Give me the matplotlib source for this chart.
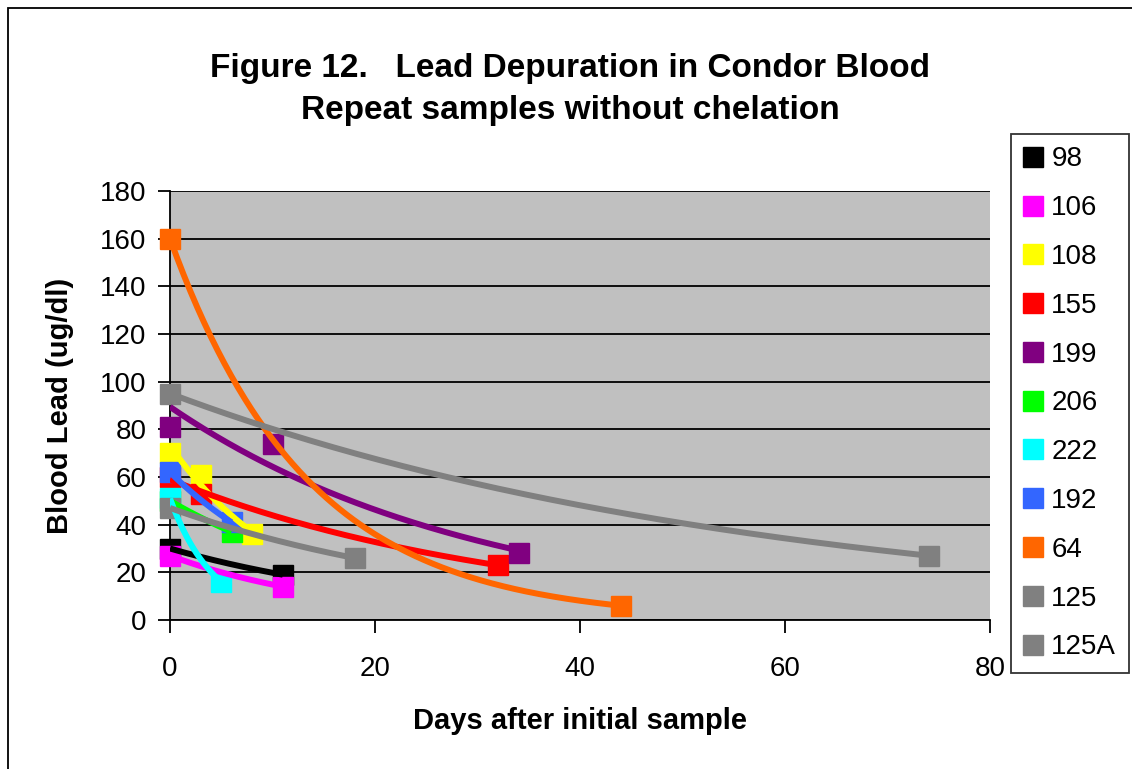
import matplotlib
matplotlib.use("Agg")
import matplotlib.pyplot as plt
from matplotlib.lines import Line2D
from matplotlib.patches import Rectangle
import numpy as np

plt.rcParams['font.family'] = ['Liberation Sans', 'DejaVu Sans']

# condor id, colour, days, blood lead (ug/dl)
names = ["98", "106", "108", "155", "199", "206", "222", "192", "64", "125", "125A"]
colors = ["#000000", "#FF00FF", "#FFFF00", "#FF0000", "#800080", "#00FF00",
          "#00FFFF", "#3366FF", "#FF6600", "#808080", "#808080"]
days = [
    [0, 11],
    [0, 11],
    [0, 3, 8],
    [0, 3, 32],
    [0, 10, 34],
    [0, 6],
    [0, 5],
    [0, 6],
    [0, 44],
    [0, 18],
    [0, 74],
]
lead = [
    [30, 19],
    [27, 14],
    [70, 61, 36],
    [60, 53, 23],
    [81, 74, 28],
    [50, 37],
    [51, 16],
    [62, 41],
    [160, 6],
    [47, 26],
    [95, 27],
]

fig = plt.figure(figsize=(11.32, 7.69), dpi=100)
ax = fig.add_axes([170/1132, 1-620/769, 820/1132, 429/769])
ax.set_facecolor("#C0C0C0")

for name, c, x, y in zip(names, colors, days, lead):
    x = np.array(x, float)
    y = np.array(y, float)
    ax.plot(x, y, linestyle="none", marker="s", markersize=14, color=c,
            markeredgecolor=c, clip_on=False, zorder=3)
    # exponential trendline like Excel
    b, a = np.polyfit(x, np.log(y), 1)
    xs = np.linspace(x.min(), x.max(), 200)
    ax.plot(xs, np.exp(a + b*xs), color=c, lw=4.3, zorder=4,
            solid_capstyle="butt")

ax.set_xlim(0, 80)
ax.set_ylim(0, 180)
ax.set_xticks(range(0, 81, 20))
ax.set_yticks(range(0, 181, 20))
ax.yaxis.grid(True, color="black", lw=1.3)
ax.set_axisbelow(True)
for s in ["top", "right"]:
    ax.spines[s].set_visible(False)
for s in ["left", "bottom"]:
    ax.spines[s].set_linewidth(1.3)
ax.tick_params(axis="both", direction="out", length=9, width=1.3, labelsize=20)
ax.tick_params(axis="x", pad=17)
ax.tick_params(axis="y", pad=8)

ax.set_xlabel("Days after initial sample", fontsize=21, fontweight="bold", labelpad=18)
ax.set_ylabel("Blood Lead (ug/dl)", fontsize=21, fontweight="bold", labelpad=19)

fig.text(570/1132, 1-68/769, "Figure 12.   Lead Depuration in Condor Blood",
         ha="center", va="center", fontsize=24, fontweight="bold")
fig.text(570/1132, 1-110/769, "Repeat samples without chelation",
         ha="center", va="center", fontsize=24, fontweight="bold")

handles = [Line2D([], [], linestyle="none", marker="s", markersize=14,
                  color=c, markeredgecolor=c) for c in colors]
leg = fig.legend(handles, names, loc="upper left",
                 bbox_to_anchor=(1011/1132, 1-134/769), fontsize=20,
                 frameon=True, fancybox=False, edgecolor="black",
                 borderaxespad=0, handlelength=0.7, handletextpad=0.3,
                 labelspacing=0.82, borderpad=0.45)
leg.get_frame().set_linewidth(1.3)

fig.patches.append(Rectangle((8/1132, -0.1), 1.2, 1-8/769+0.1,
                             transform=fig.transFigure, fill=False,
                             edgecolor="black", lw=1.3))

fig.savefig("out.png", dpi=100)
